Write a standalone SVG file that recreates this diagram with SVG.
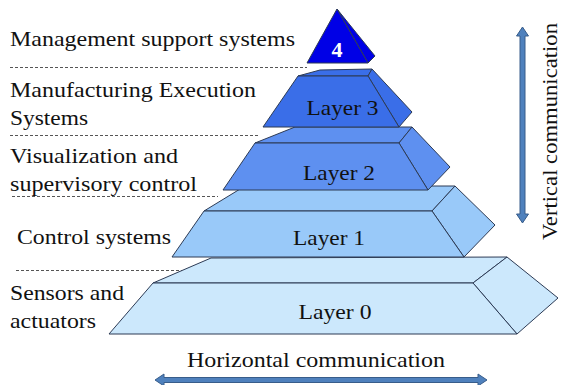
<svg xmlns="http://www.w3.org/2000/svg" width="562" height="385" viewBox="0 0 562 385">
<style>
.t{font-family:"Liberation Serif","DejaVu Serif","Times New Roman",serif;font-size:22px;fill:#111}
.lay{font-family:"Liberation Serif","DejaVu Serif","Times New Roman",serif;font-size:22px;fill:#111;text-anchor:middle}
.f{stroke:#2d3b55;stroke-width:1;stroke-linejoin:round}
.d{stroke:#555;stroke-width:1;stroke-dasharray:3 2;fill:none}
.arr{fill:#4f81bd;stroke:#385d8a;stroke-width:1}
</style>
<rect width="562" height="385" fill="#fff"/>
<g id="dashes">
<line class="d" x1="10" y1="67.5" x2="307" y2="67.5"/>
<line class="d" x1="10" y1="135.5" x2="258" y2="135.5"/>
<line class="d" x1="12" y1="196.5" x2="218" y2="196.5"/>
<line class="d" x1="16" y1="270.5" x2="182" y2="270.5"/>
</g>
<g id="layer0">
<polygon class="f" fill="#cce8fc" points="153,283 211,258 507,257 473,283"/>
<polygon class="f" fill="#cce8fc" points="473,283 507,257 558,298 517,334"/>
<polygon class="f" fill="#cce8fc" points="153,283 473,283 517,334 109,334"/>
<text class="lay" x="335" y="319" textLength="73" lengthAdjust="spacingAndGlyphs">Layer 0</text>
</g>
<g id="layer1">
<polygon class="f" fill="#99c9f9" points="204,211 245,186 455,186 432,211"/>
<polygon class="f" fill="#99c9f9" points="432,211 455,186 495,225 464,257"/>
<polygon class="f" fill="#99c9f9" points="204,211 432,211 464,257 172,257"/>
<text class="lay" x="329" y="245" textLength="72" lengthAdjust="spacingAndGlyphs">Layer 1</text>
</g>
<g id="layer2">
<polygon class="f" fill="#5e90f0" points="255,143 295,127 412,127 399,143"/>
<polygon class="f" fill="#5e90f0" points="399,143 412,127 450,167 428,190"/>
<polygon class="f" fill="#5e90f0" points="255,143 399,143 428,190 223,190"/>
<text class="lay" x="339" y="180" textLength="72" lengthAdjust="spacingAndGlyphs">Layer 2</text>
</g>
<g id="layer3">
<polygon class="f" fill="#3a6ee8" points="298,76 320,70 372,69 368,76"/>
<polygon class="f" fill="#3a6ee8" points="368,76 372,69 412,112 399,127"/>
<polygon class="f" fill="#3a6ee8" points="298,76 368,76 399,127 263,127"/>
<text class="lay" x="342.5" y="115" textLength="72" lengthAdjust="spacingAndGlyphs">Layer 3</text>
</g>
<g id="layer4">
<polygon class="f" fill="#0000e6" points="337,9 368,63 375,56"/>
<polygon class="f" fill="#0000e6" points="337,9 307,63 368,63"/>
<text class="lay" x="337" y="57" font-weight="bold" style="fill:#fff">4</text>
</g>
<g id="labels">
<text class="t" x="10" y="46" textLength="285" lengthAdjust="spacingAndGlyphs">Management support systems</text>
<text class="t" x="10" y="97" textLength="246" lengthAdjust="spacingAndGlyphs">Manufacturing Execution</text>
<text class="t" x="10" y="125" textLength="78" lengthAdjust="spacingAndGlyphs">Systems</text>
<text class="t" x="10" y="163" textLength="168" lengthAdjust="spacingAndGlyphs">Visualization and</text>
<text class="t" x="10" y="191" textLength="187" lengthAdjust="spacingAndGlyphs">supervisory control</text>
<text class="t" x="17" y="244" textLength="154" lengthAdjust="spacingAndGlyphs">Control systems</text>
<text class="t" x="10" y="300" textLength="114" lengthAdjust="spacingAndGlyphs">Sensors and</text>
<text class="t" x="10" y="328" textLength="86" lengthAdjust="spacingAndGlyphs">actuators</text>
<text class="t" x="187" y="367" textLength="258" lengthAdjust="spacingAndGlyphs">Horizontal communication</text>
<text class="t" transform="translate(557,131.5) rotate(-90)" text-anchor="middle" textLength="217" lengthAdjust="spacingAndGlyphs">Vertical communication</text>
</g>
<g id="connectors">
<polygon class="arr" points="155,380 164,374 164,377.5 478,377.5 478,374 487,380 478,386 478,382.5 164,382.5 164,386"/>
<polygon class="arr" points="522.5,27 528.5,36 525,36 525,214 528.5,214 522.5,223 516.5,214 520,214 520,36 516.5,36"/>
</g>
</svg>
